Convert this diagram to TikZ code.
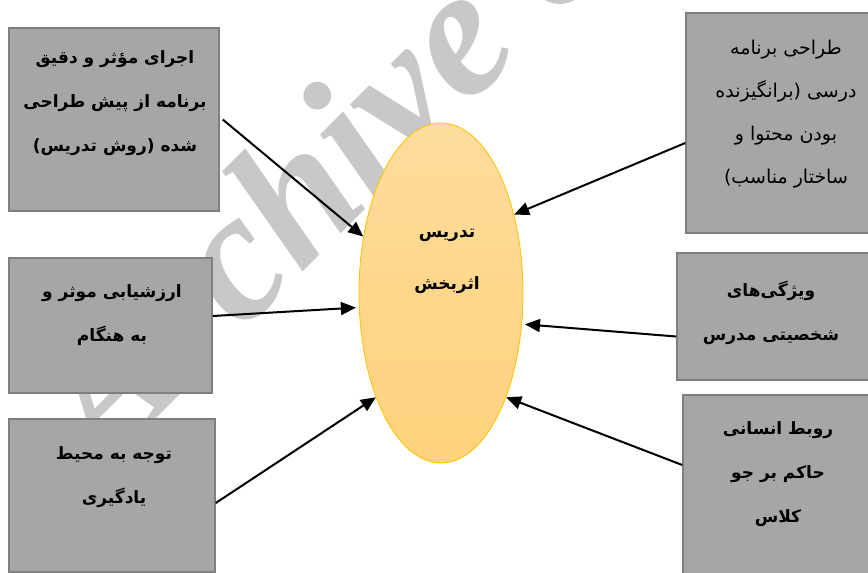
\documentclass[tikz,border=0pt]{standalone}
\usepackage{fontspec}
\usetikzlibrary{arrows.meta,shapes.geometric}
\TeXXeTstate=1
\newfontfamily\arabicfont[Script=Arabic]{DejaVu Sans}
\newfontfamily\wmfont{Liberation Serif}
\newcommand\rl[1]{\beginR #1\endR}
\definecolor{boxfill}{HTML}{A6A6A6}
\definecolor{boxline}{HTML}{7F7F7F}
\definecolor{elltop}{HTML}{FEDC9C}
\definecolor{ellbot}{HTML}{FFD27C}
\definecolor{ellline}{HTML}{FFC000}
\definecolor{wmgray}{HTML}{C8C8C8}
\begin{document}
\begin{tikzpicture}[x=1pt,y=-1pt,
  box/.style={draw=boxline, fill=boxfill, line width=1.5pt, inner sep=0pt},
  txt/.style={font=\arabicfont\fontsize{17}{44}\selectfont\bfseries, align=center, inner sep=0pt},
  txtreg/.style={font=\arabicfont\fontsize{19}{43}\selectfont, align=center, inner sep=0pt},
  conn/.style={line width=2pt, -{Triangle[length=15pt,width=13pt]}}]
\useasboundingbox (0,0) rectangle (868,573);
\clip (0,0) rectangle (868,573);
% watermark
\node[font=\wmfont\fontsize{184}{184}\selectfont\bfseries\itshape, text=wmgray,
      rotate=45, anchor=base west, inner sep=0pt] (wm) at (105,470) {Archive of SID};
% boxes
\node[box, minimum width=210pt, minimum height=183pt] (L1) at (114,119.5) {};
\node[box, minimum width=203pt, minimum height=135pt] (L2) at (110.5,325.5) {};
\node[box, minimum width=206pt, minimum height=153pt] (L3) at (112,495.5) {};
\node[box, minimum width=209pt, minimum height=220pt] (R1) at (790.5,123) {};
\node[box, minimum width=203pt, minimum height=127pt] (R2) at (778.5,316.5) {};
\node[box, minimum width=197pt, minimum height=205pt] (R3) at (781.5,497.5) {};
% ellipse
\node[ellipse, draw=ellline, line width=0.8pt, top color=elltop, bottom color=ellbot,
      minimum width=164pt, minimum height=340pt, inner sep=0pt] (E) at (441,293) {};
% texts
\node[txt] (t1) at (115,103) {\rl{اجرای مؤثر و دقیق}\\\rl{برنامه از پیش طراحی}\\\rl{شده (روش تدریس)}};
\node[txt] (t2) at (112,315) {\rl{ارزشیابی موثر و}\\\rl{به هنگام}};
\node[txt] (t3) at (114,477) {\rl{توجه به محیط}\\\rl{یادگیری}};
\node[txtreg] (t4) at (786,114) {\rl{طراحی برنامه}\\\rl{درسی (برانگیزنده}\\\rl{بودن محتوا و}\\\rl{ساختار مناسب)}};
\node[txt] (t5) at (771,313) {\rl{ویژگی‌های}\\\rl{شخصیتی مدرس}};
\node[txt] (t6) at (778,474) {\rl{روبط انسانی}\\\rl{حاکم بر جو}\\\rl{کلاس}};
\node[font=\arabicfont\fontsize{17}{52}\selectfont\bfseries, align=center, inner sep=0pt] (t7) at (447,261) {\rl{تدریس}\\\rl{اثربخش}};
% connectors
\draw[conn] ([xshift=3pt]L1.east) -- (E.144);
\draw[conn] ([yshift=-20pt]R1.west) -- (E.47);
\draw[conn, shorten >=3pt] ([yshift=9.5pt]L2.east) -- (E.190);
\draw[conn, shorten >=3pt] ([yshift=-20pt]R2.west) -- (E.-21);
\draw[conn] ([yshift=-7.5pt]L3.east) -- (E.238);
\draw[conn] ([yshift=32.5pt]R3.west) -- (E.-58);
\end{tikzpicture}
\end{document}
